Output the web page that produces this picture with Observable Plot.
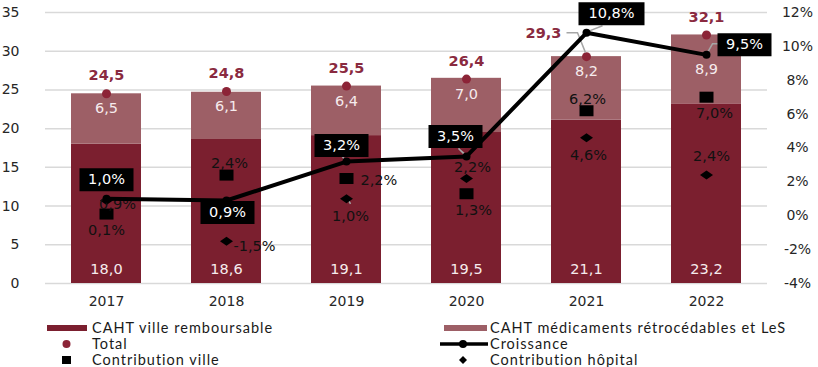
<!DOCTYPE html>
<html><head><meta charset="utf-8">
<script src="https://cdn.jsdelivr.net/npm/d3@7"></script>
<script src="https://cdn.jsdelivr.net/npm/@observablehq/plot@0.6"></script>
<style>
body{margin:0;background:#fff;}
#wrap{position:relative;width:818px;height:367px;overflow:hidden;font-family:'DejaVu Sans',sans-serif;}
#legend{position:absolute;left:0;top:321px;width:818px;height:46px;font-family:Lato,sans-serif;font-size:14.5px;letter-spacing:1px;color:#1a1a1a;}
.item{position:absolute;display:flex;align-items:center;height:14px;white-space:nowrap;line-height:14px;}
.item svg{flex:none;display:block;}
</style></head><body><div id="wrap"><div id="chart"></div><div id="legend"></div></div>
<script>
// ---- data ----
const years = ["2017","2018","2019","2020","2021","2022"];
const villeRemb = [18.0,18.6,19.1,19.5,21.1,23.2];
const retro = [6.5,6.1,6.4,7.0,8.2,8.9];
const total = [24.5,24.8,25.5,26.4,29.3,32.1];
const croissance = [1.0,0.9,3.2,3.5,10.8,9.5];
const contribVille = [0.1,2.4,2.2,1.3,6.2,7.0];
const contribHopital = [0.9,-1.5,1.0,2.2,4.6,2.4];
const leftTicks = [0,5,10,15,20,25,30,35];
const rightTicks = [-4,-2,0,2,4,6,8,10,12];
const seriesNames = ["CAHT ville remboursable","CAHT médicaments rétrocédables et LeS"];
const legendNames = ["Total","Croissance","Contribution ville","Contribution hôpital"];

// ---- styling ----
const DARK = "#7b1f2f", LIGHT = "#9d5f66", TOT = "#8c2437", TOTTXT = "#8a2a40";
const LBL = "#f6ebed", GRID = "#d9d9d9", LEAD = "#a6a6a6";
const FS = 14.5;

// secondary (percent) axis mapped onto the primary scale
const L0 = leftTicks[0], L1 = leftTicks[leftTicks.length-1];
const R0 = rightTicks[0], R1 = rightTicks[rightTicks.length-1];
const P = p => L0 + (p - R0) * (L1 - L0) / (R1 - R0);

const fmt = v => v.toFixed(1).replace(".", ",");
const fmtPct = v => fmt(v) + "%";

const rows = years.map((year, i) => ({year, ville: villeRemb[i], retro: retro[i], total: total[i],
  cr: croissance[i], cv: contribVille[i], ch: contribHopital[i]}));
const stacked = years.flatMap((year, i) => [
  {year, series: seriesNames[0], value: villeRemb[i]},
  {year, series: seriesNames[1], value: retro[i]}]);
const only = (...ys) => rows.filter(d => ys.includes(d.year));
const except = (...ys) => rows.filter(d => !ys.includes(d.year));

const rectSym = (w, h) => ({draw(ctx){ ctx.rect(-w/2, -h/2, w, h); }});
const diamondSym = (w, h) => ({draw(ctx){ ctx.moveTo(0,-h/2); ctx.lineTo(w/2,0); ctx.lineTo(0,h/2); ctx.lineTo(-w/2,0); ctx.closePath(); }});
const polySym = pts => ({draw(ctx){ ctx.moveTo(pts[0][0], pts[0][1]); for (const p of pts.slice(1)) ctx.lineTo(p[0], p[1]); }});

// label placements (pixel offsets)
const crPlace = {"2017":[0,-19],"2018":[1,12],"2019":[-5,-16],"2020":[-11,-20],"2021":[25,-19],"2022":[38,-10]};
const villePlace = {"2017":[0,16,"middle"],"2018":[3,-12,"middle"],"2019":[14,2,"start"],"2020":[7,17,"middle"],"2021":[1,-11,"middle"],"2022":[8,16,"middle"]};
const hopPlace = {"2017":[11,4,"middle"],"2018":[7,5,"start"],"2019":[4,18,"middle"],"2020":[6,-11,"middle"],"2021":[2,18,"middle"],"2022":[5,-19,"middle"]};
const crLeaders = {"2019":[[-5,-6],[-1,-1]],"2020":[[-8,-8],[0,-1]],"2021":[[3,-2],[16,-7]],"2022":[[2,-4],[6,-11],[13,-11]]};

const marks = [
  Plot.gridY(leftTicks, {stroke: GRID, strokeOpacity: 1, strokeWidth: 1.5}),
  Plot.barY(stacked, {x: "year", y: "value", fill: "series"}),
  Plot.text(rows, {x: "year", y: 0, text: d => fmt(d.ville), dy: -14, fill: LBL, fontSize: FS}),
  Plot.text(except("2022"), {x: "year", y: "total", text: d => fmt(d.retro), dy: 15, fill: LBL, fontSize: FS}),
  Plot.text(only("2022"), {x: "year", y: d => d.ville + d.retro/2, text: d => fmt(d.retro), fill: LBL, fontSize: FS}),
  Plot.dot(rows, {x: "year", y: "total", r: 4.5, fill: TOT}),
  Plot.text(except("2021"), {x: "year", y: "total", text: d => fmt(d.total), dy: -18, fill: TOTTXT, fontWeight: "bold", fontSize: FS}),
  Plot.text(only("2021"), {x: "year", y: "total", text: d => fmt(d.total), dx: -43, dy: -23, fill: TOTTXT, fontWeight: "bold", fontSize: FS}),
  Plot.dot(only("2021"), {x: "year", y: "total", symbol: polySym([[-20,-24],[-9,-24],[-1,-4]]), fill: "none", stroke: LEAD, strokeWidth: 1.5}),
  Plot.dot(only("2019"), {x: "year", y: d => P(d.ch), symbol: polySym([[0,-2],[4,5]]), fill: "none", stroke: LEAD, strokeWidth: 1.5}),
  Plot.dot(rows, {x: "year", y: d => P(d.cv), symbol: rectSym(14, 11), fill: "#000"}),
  Plot.dot(rows, {x: "year", y: d => P(d.ch), symbol: diamondSym(13, 9), fill: "#000"}),
  ...years.map(y => Plot.text(only(y), {x: "year", y: d => P(d.cv), text: d => fmtPct(d.cv), dx: villePlace[y][0], dy: villePlace[y][1], textAnchor: villePlace[y][2], fill: "#111", fontSize: FS})),
  ...years.map(y => Plot.text(only(y), {x: "year", y: d => P(d.ch), text: d => fmtPct(d.ch), dx: hopPlace[y][0], dy: hopPlace[y][1], textAnchor: hopPlace[y][2], fill: "#111", fontSize: FS})),
  ...Object.keys(crLeaders).map(y => Plot.dot(only(y), {x: "year", y: d => P(d.cr), symbol: polySym([[0,0], ...crLeaders[y]]), fill: "none", stroke: LEAD, strokeWidth: 1.5})),
  Plot.line(rows, {x: "year", y: d => P(d.cr), stroke: "#000", strokeWidth: 4}),
  Plot.dot(rows, {x: "year", y: d => P(d.cr), r: 4, fill: "#000"}),
  ...years.map(y => Plot.dot(only(y), {x: "year", y: d => P(d.cr), dx: crPlace[y][0], dy: crPlace[y][1], symbol: rectSym(fmtPct(croissance[years.indexOf(y)]).length > 4 ? 66 : 54, 23), fill: "#000"})),
  ...years.map(y => Plot.text(only(y), {x: "year", y: d => P(d.cr), dx: crPlace[y][0], dy: crPlace[y][1], text: d => fmtPct(d.cr), fill: "#fff", fontSize: FS})),
  Plot.axisX({tickSize: 0, tickPadding: 13, label: null, fill: "#262626"}),
  Plot.axisY(leftTicks, {anchor: "left", tickSize: 0, tickPadding: 26, label: null, fill: "#262626"}),
  Plot.axisY(rightTicks.map(P), {anchor: "right", tickSize: 0, tickPadding: 30, textAnchor: "middle", label: null, fill: "#262626", tickFormat: (d, i) => rightTicks[i] + "%"})
];

const chart = Plot.plot({
  width: 818, height: 315,
  marginLeft: 45, marginRight: 51, marginTop: 12, marginBottom: 32,
  style: {fontFamily: "'DejaVu Sans', sans-serif", fontSize: "14px", background: "#fff", overflow: "visible"},
  x: {type: "band", domain: years, paddingInner: 0.42, paddingOuter: 0.21, axis: null},
  y: {domain: [L0, L1], axis: null},
  color: {domain: seriesNames, range: [DARK, LIGHT]},
  marks
});
document.getElementById("chart").appendChild(chart);

// ---- legend ----
const legend = document.getElementById("legend");
const items = [
  {left: 47, top: 0, w: 45, svg: `<rect x="0" y="4" width="40" height="6" fill="${DARK}"/>`, text: seriesNames[0]},
  {left: 440, top: 0, w: 50, svg: `<rect x="4" y="4" width="43" height="6" fill="${LIGHT}"/>`, text: seriesNames[1]},
  {left: 47, top: 16, w: 45, svg: `<circle cx="19.5" cy="7" r="4" fill="${TOT}"/>`, text: legendNames[0]},
  {left: 440, top: 16, w: 50, svg: `<line x1="0" x2="48" y1="7" y2="7" stroke="#000" stroke-width="3.5"/><circle cx="23" cy="7" r="4" fill="#000"/>`, text: legendNames[1]},
  {left: 47, top: 32, w: 45, svg: `<rect x="15" y="3" width="9" height="8" fill="#000"/>`, text: legendNames[2]},
  {left: 440, top: 32, w: 50, svg: `<path d="M23,3L27,7L23,11L19,7Z" fill="#000"/>`, text: legendNames[3]}
];
for (const it of items) {
  const div = document.createElement("div");
  div.className = "item";
  div.style.left = it.left + "px";
  div.style.top = it.top + "px";
  div.innerHTML = `<svg width="${it.w}" height="14">${it.svg}</svg><span>${it.text}</span>`;
  legend.appendChild(div);
}
</script></body></html>
